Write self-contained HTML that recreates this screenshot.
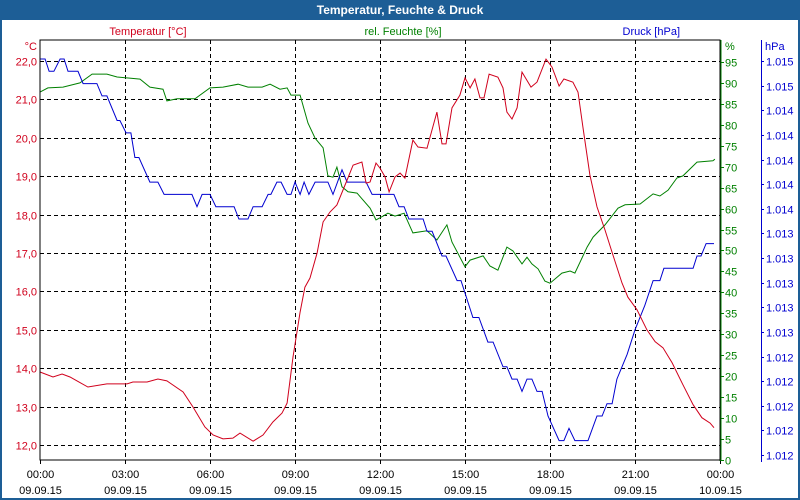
<!DOCTYPE html>
<html><head><meta charset="utf-8"><style>
html,body{margin:0;padding:0;background:#fff;}
#wrap{position:relative;width:800px;height:500px;overflow:hidden;background:#fff;font-family:"Liberation Sans",sans-serif;}
svg text{font-family:"Liberation Sans",sans-serif;font-size:11px;}
</style></head><body>
<div id="wrap">
<svg id="chart" width="800" height="500" xmlns="http://www.w3.org/2000/svg">
<rect x="0" y="0" width="800" height="500" fill="#ffffff"/>
<rect x="0" y="0" width="800" height="20" fill="#1d5e96"/>
<rect x="0" y="20" width="2" height="480" fill="#1d5e96"/>
<rect x="798" y="20" width="2" height="480" fill="#1d5e96"/>
<rect x="0" y="498" width="800" height="2" fill="#1d5e96"/>
<text x="400" y="14" text-anchor="middle" fill="#fff" font-weight="bold" style="font-size:12px">Temperatur, Feuchte &amp; Druck</text>
<text x="148" y="35" text-anchor="middle" fill="#d0001c">Temperatur [°C]</text>
<text x="403" y="35" text-anchor="middle" fill="#008000">rel. Feuchte [%]</text>
<text x="680" y="35" text-anchor="end" fill="#0000d0">Druck [hPa]</text>
<text x="37" y="50" text-anchor="end" fill="#d0001c">°C</text>
<text x="725" y="50" fill="#008000">%</text>
<text x="765" y="50" fill="#0000d0">hPa</text>
<g id="grid"></g>
<g id="axes"></g>
<g id="series"></g>
<rect x="40" y="40" width="680" height="420" fill="none" stroke="#000" stroke-width="1"/>
</svg>
</div>
<script>
const timeTicks=[0,3,6,9,12,15,18,21,24];
const timeLabels=["00:00","03:00","06:00","09:00","12:00","15:00","18:00","21:00","00:00"];
const dateLabels=["09.09.15","09.09.15","09.09.15","09.09.15","09.09.15","09.09.15","09.09.15","09.09.15","10.09.15"];
const tempTicks=[12,13,14,15,16,17,18,19,20,21,22];
const humTicks=[0,5,10,15,20,25,30,35,40,45,50,55,60,65,70,75,80,85,90,95];
const pressLabels=["1.015","1.015","1.014","1.014","1.014","1.014","1.014","1.013","1.013","1.013","1.013","1.013","1.012","1.012","1.012","1.012","1.012"];

const tempTime=[0,.46,.78,1.06,1.69,2.36,3.07,3.28,3.78,4.16,4.48,5.05,5.40,5.82,6.11,6.46,6.81,7.06,7.52,7.87,8.22,8.54,8.72,8.93,9.18,9.35,9.53,9.78,9.99,10.24,10.48,10.84,11.05,11.36,11.51,11.65,11.86,12.0,12.18,12.32,12.53,12.71,12.88,13.16,13.34,13.66,14.01,14.19,14.33,14.54,14.82,15.0,15.18,15.35,15.53,15.67,15.85,16.16,16.34,16.48,16.66,16.84,17.01,17.33,17.54,17.86,18.07,18.32,18.49,18.81,18.99,19.16,19.41,19.66,19.94,20.22,20.54,20.75,21.07,21.42,21.71,21.99,22.31,22.69,23.05,23.36,23.65,23.79];
const tempValues=[13.90,13.77,13.85,13.77,13.51,13.59,13.59,13.64,13.64,13.72,13.67,13.38,12.99,12.47,12.26,12.16,12.18,12.31,12.10,12.26,12.60,12.83,13.09,14.29,15.46,16.11,16.35,17.0,17.81,18.07,18.25,18.90,19.29,19.37,18.82,18.85,19.34,19.21,18.98,18.59,18.98,19.08,18.95,19.94,19.76,19.73,20.67,19.84,19.84,20.78,21.11,21.56,21.30,21.53,21.04,21.04,21.66,21.58,21.30,20.67,20.49,20.78,21.71,21.32,21.45,22.05,21.84,21.35,21.53,21.45,21.19,20.28,19.03,18.20,17.60,16.95,16.22,15.85,15.52,15.0,14.69,14.53,14.14,13.57,13.05,12.71,12.57,12.45];

const humTime=[0,.28,.81,1.41,1.84,2.36,2.72,3.53,3.88,4.34,4.48,4.84,5.47,6.0,6.46,6.99,7.34,7.84,8.12,8.47,8.72,8.86,9.18,9.46,9.71,9.99,10.16,10.34,10.48,10.66,10.87,11.19,11.65,11.86,12.11,12.28,12.53,12.85,13.16,13.66,14.01,14.36,14.54,15.0,15.18,15.64,15.88,16.16,16.48,16.69,17.01,17.19,17.36,17.58,17.82,18.0,18.42,18.71,18.88,19.31,19.52,19.94,20.4,20.65,21.18,21.64,21.88,22.17,22.48,22.69,23.19,23.75,23.82];
const humValues=[87.8,88.8,89.0,90.0,92.1,92.1,91.4,90.9,89.0,88.5,85.7,86.2,86.2,88.8,89.0,89.7,89.0,89.0,89.7,88.5,88.8,87.1,87.1,80.4,76.8,74.5,67.8,67.5,69.9,65.2,64.0,63.7,60.1,57.3,58.2,58.9,58.2,58.9,54.2,54.7,52.5,56.1,52.0,46.1,47.7,48.7,46.3,45.3,50.8,49.9,46.8,48.4,46.8,45.6,42.7,42.2,44.6,45.1,44.6,50.8,53.2,56.1,60.1,60.9,61.1,63.5,63.0,64.4,67.3,67.8,71.1,71.4,71.8];

const pressTime=[0,.18,.32,.49,.71,.85,.99,1.34,1.52,2.01,2.19,2.36,2.72,2.82,3.04,3.21,3.35,3.49,3.88,4.16,4.38,5.36,5.54,5.72,6.0,6.21,6.85,7.02,7.34,7.52,7.84,8.05,8.15,8.36,8.51,8.72,8.86,9.0,9.18,9.32,9.49,9.71,10.16,10.34,10.66,10.84,11.51,11.72,12.49,12.67,12.85,13.02,13.52,13.66,13.84,14.19,14.33,14.72,14.86,15.28,15.49,15.81,15.99,16.34,16.48,16.66,16.84,17.01,17.19,17.36,17.54,17.72,17.93,18.32,18.49,18.67,18.88,19.34,19.66,19.84,20.01,20.19,20.36,20.72,21.0,21.35,21.64,21.88,22.02,23.05,23.19,23.33,23.51,23.79];
const pressValues=[1015.2,1015.2,1015.1,1015.1,1015.2,1015.2,1015.1,1015.1,1015.0,1015.0,1014.9,1014.9,1014.7,1014.7,1014.6,1014.6,1014.4,1014.4,1014.2,1014.2,1014.1,1014.1,1014.0,1014.1,1014.1,1014.0,1014.0,1013.9,1013.9,1014.0,1014.0,1014.1,1014.1,1014.2,1014.2,1014.1,1014.1,1014.2,1014.1,1014.2,1014.1,1014.2,1014.2,1014.1,1014.3,1014.2,1014.2,1014.1,1014.1,1014.0,1014.0,1013.9,1013.9,1013.8,1013.8,1013.6,1013.6,1013.4,1013.4,1013.1,1013.1,1012.9,1012.9,1012.7,1012.7,1012.6,1012.6,1012.5,1012.6,1012.6,1012.5,1012.5,1012.3,1012.1,1012.1,1012.2,1012.1,1012.1,1012.3,1012.3,1012.4,1012.4,1012.6,1012.8,1013.0,1013.2,1013.4,1013.4,1013.5,1013.5,1013.6,1013.6,1013.7,1013.7];

const NS="http://www.w3.org/2000/svg";
const xS=h=>40+h*(680/24);
const yT=t=>61+(22-t)*38.4;
const yH=v=>460-v*4.19;
const yP=p=>59+(1015.2-p)*123.1;
function mk(tag,attrs,parent){const e=document.createElementNS(NS,tag);for(const k in attrs)e.setAttribute(k,attrs[k]);parent.appendChild(e);return e;}
const grid=document.getElementById('grid'),axes=document.getElementById('axes'),series=document.getElementById('series');

tempTicks.forEach(t=>{
  const y=Math.round(yT(t))+0.5;
  const l=mk('line',{x1:40,x2:720,y1:y,y2:y,stroke:'#000','stroke-dasharray':'4,3'},grid);
  
  
  const tx=mk('text',{x:37,y:y+4,'text-anchor':'end',fill:'#d0001c'},axes);
  tx.textContent=t.toFixed(1).replace('.',',');
  
  
});
timeTicks.forEach((h,i)=>{
  const x=Math.round(xS(h))+0.5;
  if(i>0&&i<timeTicks.length-1){
    const l=mk('line',{x1:x,x2:x,y1:40,y2:460,stroke:'#000','stroke-dasharray':'4,3'},grid);
    
    
  }
  const tk=mk('line',{x1:x,x2:x,y1:460,y2:464,stroke:'#000'},axes);
  
  
  const t1=mk('text',{x:x,y:478,'text-anchor':'middle',fill:'#000'},axes);
  t1.textContent=timeLabels[i];
  
  
  const t2=mk('text',{x:x,y:494,'text-anchor':'middle',fill:'#000'},axes);
  t2.textContent=dateLabels[i];
  
  
});
// humidity axis
const ha=mk('line',{x1:720.5,x2:720.5,y1:40,y2:461,stroke:'#008000','stroke-width':2},axes);


humTicks.forEach(v=>{
  const y=Math.round(yH(v))+0.5;
  const tk=mk('line',{x1:720,x2:724,y1:y,y2:y,stroke:'#008000'},axes);
  
  
  const tx=mk('text',{x:725,y:y+4,fill:'#008000'},axes);
  tx.textContent=v;
  
  
});
// pressure axis
const pa=mk('line',{x1:761.5,x2:761.5,y1:40,y2:462,stroke:'#0000d0'},axes);


pressLabels.forEach((s,i)=>{
  const y=Math.round(61+i*394/(pressLabels.length-1))+0.5;
  const tk=mk('line',{x1:761,x2:764,y1:y,y2:y,stroke:'#0000d0'},axes);
  
  
  const tx=mk('text',{x:766,y:y+4,fill:'#0000d0'},axes);
  tx.textContent=s;
  
  
});
function line(ts,vs,yf,color){
  return ts.map((t,i)=>xS(t).toFixed(1)+','+yf(vs[i]).toFixed(1)).join(' ');
}
const gH=mk('polyline',{points:line(humTime,humValues,yH),fill:'none',stroke:'#008000','stroke-width':1},series);


const gP=mk('polyline',{points:line(pressTime,pressValues,yP),fill:'none',stroke:'#0000d0','stroke-width':1},series);


const gT=mk('polyline',{points:line(tempTime,tempValues,yT),fill:'none',stroke:'#d0001c','stroke-width':1},series);


</script>
</body></html>
